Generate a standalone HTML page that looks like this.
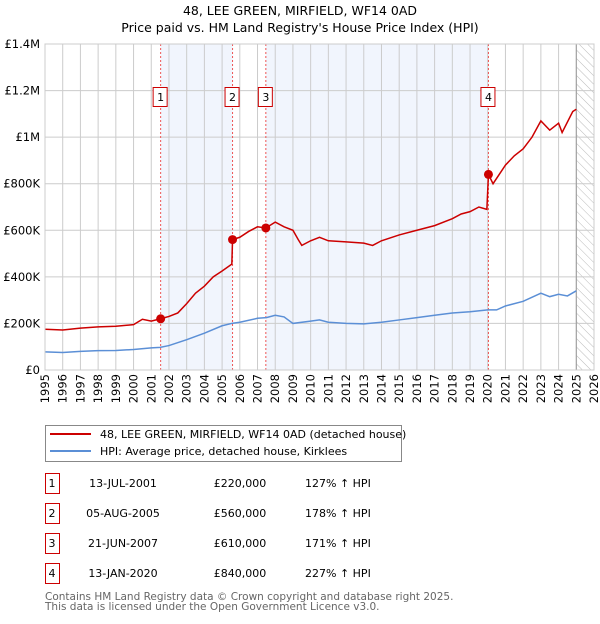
<!DOCTYPE html>
<html><head><meta charset="utf-8"><style>
body{margin:0;background:#fff;font-family:"DejaVu Sans","Liberation Sans",sans-serif;}
svg text{font-family:"DejaVu Sans","Liberation Sans",sans-serif;}
</style></head><body>
<svg id="c" width="600" height="620" xmlns="http://www.w3.org/2000/svg">
<defs><pattern id="hatch" width="6" height="6" patternUnits="userSpaceOnUse" patternTransform="rotate(-45)"><line x1="0" y1="0" x2="0" y2="6" stroke="#bbb" stroke-width="1"/></pattern></defs>
<text x="300" y="15" text-anchor="middle" font-size="12.5">48, LEE GREEN, MIRFIELD, WF14 0AD</text>
<text x="300" y="32" text-anchor="middle" font-size="12.5">Price paid vs. HM Land Registry's House Price Index (HPI)</text>
<g id="plot"></g>
<g>
<rect x="45.5" y="425.5" width="356" height="36" fill="#fff" stroke="#888"/>
<line x1="50" y1="434" x2="91" y2="434" stroke="#cc0000" stroke-width="2"/>
<text x="100" y="438" font-size="11">48, LEE GREEN, MIRFIELD, WF14 0AD (detached house)</text>
<line x1="50" y1="451" x2="91" y2="451" stroke="#5b8fd6" stroke-width="2"/>
<text x="100" y="455" font-size="11">HPI: Average price, detached house, Kirklees</text>
</g>
<g id="table" font-size="11"></g>
<text x="45" y="600" font-size="10.5" fill="#666">Contains HM Land Registry data © Crown copyright and database right 2025.</text>
<text x="45" y="610" font-size="10.5" fill="#666">This data is licensed under the Open Government Licence v3.0.</text>
</svg>
<script>
const years=[1995,1996,1997,1998,1999,2000,2001,2002,2003,2004,2005,2006,2007,2008,2009,2010,2011,2012,2013,2014,2015,2016,2017,2018,2019,2020,2021,2022,2023,2024,2025,2026];
const yTicks=[0,200000,400000,600000,800000,1000000,1200000,1400000];
const yTickLabels=["£0","£200K","£400K","£600K","£800K","£1M","£1.2M","£1.4M"];
const hpiX=[1995,1996,1997,1998,1999,2000,2001,2001.5,2002,2003,2004,2005,2005.6,2006,2007,2007.5,2008,2008.5,2009,2010,2010.5,2011,2012,2013,2014,2015,2016,2017,2018,2019,2020,2020.5,2021,2022,2023,2023.5,2024,2024.5,2025];
const hpiV=[78000,75000,80000,83000,84000,88000,95000,97000,105000,130000,158000,190000,201000,205000,222000,225000,235000,228000,200000,210000,215000,205000,200000,198000,205000,215000,225000,235000,245000,250000,258000,258000,275000,295000,330000,315000,325000,318000,340000];
const propX=[1995,1996,1997,1998,1999,2000,2000.5,2001,2001.53,2002,2002.5,2003,2003.5,2004,2004.5,2005,2005.55,2005.59,2006,2006.5,2007,2007.47,2008,2008.5,2009,2009.3,2009.5,2010,2010.5,2011,2012,2013,2013.5,2014,2015,2016,2017,2018,2018.5,2019,2019.5,2019.95,2020.04,2020.3,2021,2021.5,2022,2022.5,2023,2023.5,2024,2024.2,2024.8,2025];
const propV=[175000,172000,180000,185000,188000,195000,218000,210000,220000,230000,245000,285000,330000,360000,400000,425000,455000,560000,570000,595000,615000,610000,635000,615000,600000,560000,535000,555000,570000,555000,550000,545000,535000,555000,580000,600000,620000,650000,670000,680000,700000,690000,840000,800000,880000,920000,950000,1000000,1070000,1030000,1060000,1020000,1110000,1120000];
const saleLabels=["1","2","3","4"];
const saleX=[2001.53,2005.59,2007.47,2020.04];
const saleV=[220000,560000,610000,840000];
const saleDates=["13-JUL-2001","05-AUG-2005","21-JUN-2007","13-JAN-2020"];
const salePrices=["£220,000","£560,000","£610,000","£840,000"];
const salePct=["127% ↑ HPI","178% ↑ HPI","171% ↑ HPI","227% ↑ HPI"];
const hatchStart=2025;

const NS="http://www.w3.org/2000/svg";
const X0=45,X1=594,Y0=370,Y1=44,XMIN=1995,XMAX=2026,VMAX=1400000;
const xs=v=>X0+(v-XMIN)/(XMAX-XMIN)*(X1-X0);
const ys=v=>Y0-v/VMAX*(Y0-Y1);
const plot=document.getElementById('plot');
function mk(tag,attrs,parent){const e=document.createElementNS(NS,tag);for(const k in attrs)e.setAttribute(k,attrs[k]);(parent||plot).appendChild(e);return e;}
for(const [a,b] of [[0,1],[2,3]]){
const r=mk('rect',{x:xs(saleX[a]),y:Y1,width:xs(saleX[b])-xs(saleX[a]),height:Y0-Y1,fill:'#eef3fc',opacity:0.8});


}
const h=mk('rect',{x:xs(hatchStart),y:Y1,width:X1-xs(hatchStart),height:Y0-Y1,fill:'url(#hatch)'});


years.forEach(y=>{const l=mk('line',{x1:xs(y),x2:xs(y),y1:Y1,y2:Y0,stroke:'#ccc','stroke-width':1});


const t=mk('text',{x:0,y:0,'font-size':11.5,'text-anchor':'end',transform:`translate(${xs(y)+4},${Y0+4}) rotate(-90)`});t.textContent=y;

});
yTicks.forEach((v,i)=>{const l=mk('line',{x1:X0,x2:X1,y1:ys(v),y2:ys(v),stroke:'#ccc','stroke-width':1});


const t=mk('text',{x:40,y:ys(v)+4,'font-size':11.5,'text-anchor':'end'});t.textContent=yTickLabels[i];

});
const vl=mk('line',{x1:xs(hatchStart),x2:xs(hatchStart),y1:Y1,y2:Y0,stroke:'#999','stroke-width':1});


saleX.forEach((s,i)=>{const l=mk('line',{x1:xs(s),x2:xs(s),y1:Y1,y2:Y0,stroke:'#e55','stroke-width':1,'stroke-dasharray':'2,2'});


const b=mk('rect',{x:xs(s)-7.5,y:87.5,width:14,height:19,fill:'#fff',stroke:'#cc0000'});


const t=mk('text',{x:xs(s),y:101,'font-size':11,'text-anchor':'middle'});t.textContent=saleLabels[i];

});
const hp=mk('polyline',{points:hpiX.map((x,i)=>xs(x)+','+ys(hpiV[i])).join(' '),fill:'none',stroke:'#5b8fd6','stroke-width':1.5});


const pp=mk('polyline',{points:propX.map((x,i)=>xs(x)+','+ys(propV[i])).join(' '),fill:'none',stroke:'#cc0000','stroke-width':1.5});


saleX.forEach((s,i)=>{const c=mk('circle',{cx:xs(s),cy:ys(saleV[i]),r:4.5,fill:'#cc0000'});

});
mk('rect',{x:X0,y:Y1,width:X1-X0,height:Y0-Y1,fill:'none',stroke:'#ccc'});
const tb=document.getElementById('table');
saleLabels.forEach((s,i)=>{const y=473+i*30;
const b=mk('rect',{x:45.5,y:y+0.5,width:14,height:20,fill:'#fff',stroke:'#cc0000'},tb);


const cols=[[s,52,'middle'],[saleDates[i],123,'middle'],[salePrices[i],240,'middle'],[salePct[i],305,'start']];
cols.forEach(([txt,x,a])=>{const t=mk('text',{x:x,y:y+14,'text-anchor':a},tb);t.textContent=txt;

});});
</script>
</body></html>
